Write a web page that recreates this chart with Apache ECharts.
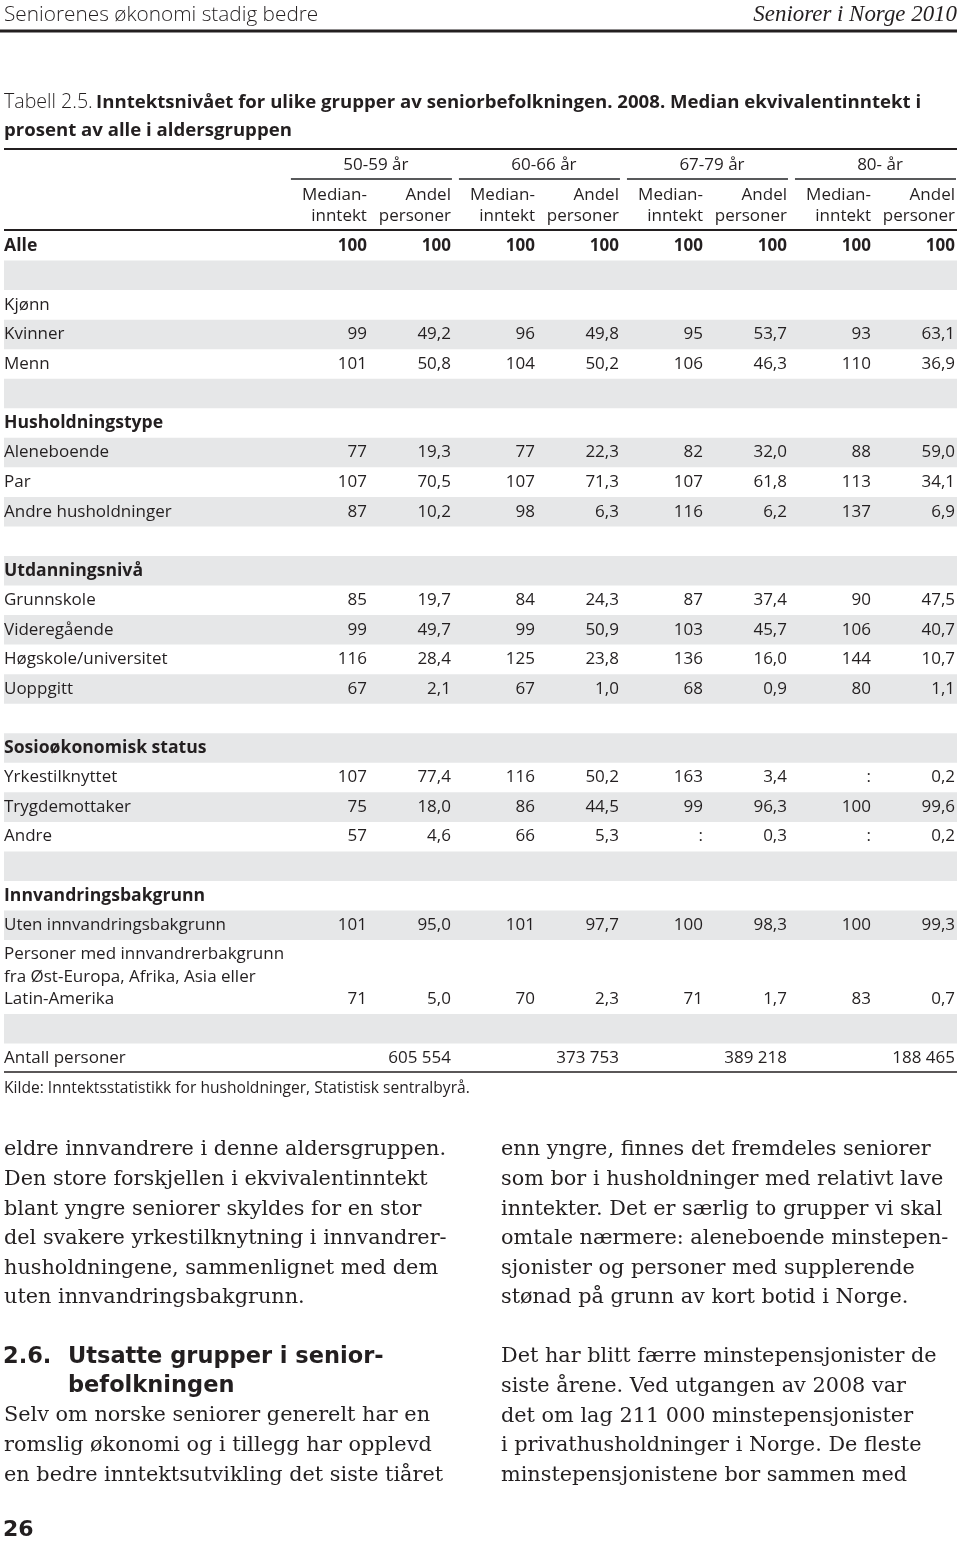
<!DOCTYPE html>
<html><head><meta charset="utf-8">
<script src="https://cdn.jsdelivr.net/npm/echarts@6/dist/echarts.min.js"></script>
<style>html,body{margin:0;padding:0;background:#fff}#c{width:960px;height:1545px}</style>
</head><body><div id="c"></div><script>
// ---------------- DATA ----------------
const ageGroups = ['50-59 år', '60-66 år', '67-79 år', '80- år'];
const subHeaders = ['Median-\ninntekt', 'Andel\npersoner'];
const personerLabel = 'Personer med innvandrerbakgrunn\nfra Øst-Europa, Afrika, Asia eller\nLatin-Amerika';
const rowLabels = ['Alle', '', 'Kjønn', 'Kvinner', 'Menn', '', 'Husholdningstype', 'Aleneboende', 'Par',
  'Andre husholdninger', '', 'Utdanningsnivå', 'Grunnskole', 'Videregående', 'Høgskole/universitet',
  'Uoppgitt', '', 'Sosioøkonomisk status', 'Yrkestilknyttet', 'Trygdemottaker', 'Andre', '',
  'Innvandringsbakgrunn', 'Uten innvandringsbakgrunn', personerLabel, '', 'Antall personer'];
const boldRows = ['Alle', 'Husholdningstype', 'Utdanningsnivå', 'Sosioøkonomisk status', 'Innvandringsbakgrunn'];
const dataRowLabels = ['Alle', 'Kvinner', 'Menn', 'Aleneboende', 'Par', 'Andre husholdninger', 'Grunnskole',
  'Videregående', 'Høgskole/universitet', 'Uoppgitt', 'Yrkestilknyttet', 'Trygdemottaker', 'Andre',
  'Uten innvandringsbakgrunn', personerLabel];
const median5059 = [100, 99, 101, 77, 107, 87, 85, 99, 116, 67, 107, 75, 57, 101, 71];
const andel5059  = [100, 49.2, 50.8, 19.3, 70.5, 10.2, 19.7, 49.7, 28.4, 2.1, 77.4, 18.0, 4.6, 95.0, 5.0];
const median6066 = [100, 96, 104, 77, 107, 98, 84, 99, 125, 67, 116, 86, 66, 101, 70];
const andel6066  = [100, 49.8, 50.2, 22.3, 71.3, 6.3, 24.3, 50.9, 23.8, 1.0, 50.2, 44.5, 5.3, 97.7, 2.3];
const median6779 = [100, 95, 106, 82, 107, 116, 87, 103, 136, 68, 163, 99, ':', 100, 71];
const andel6779  = [100, 53.7, 46.3, 32.0, 61.8, 6.2, 37.4, 45.7, 16.0, 0.9, 3.4, 96.3, 0.3, 98.3, 1.7];
const median80   = [100, 93, 110, 88, 113, 137, 90, 106, 144, 80, ':', 100, ':', 100, 83];
const andel80    = [100, 63.1, 36.9, 59.0, 34.1, 6.9, 47.5, 40.7, 10.7, 1.1, 0.2, 99.6, 0.2, 99.3, 0.7];
const antallPersoner = [605554, 373753, 389218, 188465];

const pageHeaderLeft = 'Seniorenes økonomi stadig bedre';
const pageHeaderRight = 'Seniorer i Norge 2010';
const captionLabel = 'Tabell 2.5.';
const captionLine1 = 'Inntektsnivået for ulike grupper av seniorbefolkningen. 2008. Median ekvivalentinntekt i';
const captionLine2 = 'prosent av alle i aldersgruppen';
const sourceText = 'Kilde: Inntektsstatistikk for husholdninger, Statistisk sentralbyrå.';
const leftPara1 = ['eldre innvandrere i denne aldersgruppen.', 'Den store forskjellen i ekvivalentinntekt',
  'blant yngre seniorer skyldes for en stor', 'del svakere yrkestilknytning i innvandrer-',
  'husholdningene, sammenlignet med dem', 'uten innvandringsbakgrunn.'];
const headingNumber = '2.6.';
const headingLines = ['Utsatte grupper i senior-', 'befolkningen'];
const leftPara2 = ['Selv om norske seniorer generelt har en', 'romslig økonomi og i tillegg har opplevd',
  'en bedre inntektsutvikling det siste tiåret'];
const rightPara1 = ['enn yngre, finnes det fremdeles seniorer', 'som bor i husholdninger med relativt lave',
  'inntekter. Det er særlig to grupper vi skal', 'omtale nærmere: aleneboende minstepen-',
  'sjonister og personer med supplerende', 'stønad på grunn av kort botid i Norge.'];
const rightPara2 = ['Det har blitt færre minstepensjonister de', 'siste årene. Ved utgangen av 2008 var',
  'det om lag 211 000 minstepensjonister', 'i privathusholdninger i Norge. De fleste',
  'minstepensjonistene bor sammen med'];
const pageNumber = '26';

// ---------------- STYLE ----------------
const SANS = "'Open Sans', 'Noto Sans', sans-serif";
const HEAVY = "'DejaVu Sans', sans-serif";
const SERIF = "'DejaVu Serif', serif";
const ITSERIF = "'Liberation Serif', serif";
const TXT = '#231f20';
const GRAY = '#e6e7e8';
const FS = 17;

// ---------------- LAYOUT (row units) ----------------
const rowLines = rowLabels.map(l => l.split('\n').length);
const rowUnits = rowLines.map(n => 1 + (n - 1) * 0.75);
const rowTop = [];
let acc = 0;
rowUnits.forEach(u => { rowTop.push(acc); acc += u; });
const totalUnits = acc;
const X_MIN = -3.32, X_MAX = 8;

const columns = [median5059, andel5059, median6066, andel6066, median6779, andel6779, median80, andel80];

function fmtVal(v, isAndel, isAlle) {
  if (typeof v === 'string') return v;
  if (!isAndel || isAlle) return String(v);
  return v.toFixed(1).replace('.', ',');
}
function fmtThousands(v) {
  return String(v).replace(/\B(?=(\d{3})+(?!\d))/g, ' ');
}
function txt(x, y, s, o) {
  o = o || {};
  return {
    type: 'text', x: x, y: y, silent: true,
    style: {
      text: s, fill: o.fill || TXT, fontSize: o.size || FS, fontFamily: o.family || SANS,
      fontWeight: o.weight || 'normal', fontStyle: o.style || 'normal',
      align: o.align || 'left', textAlign: o.align || 'left',
      verticalAlign: 'middle', textVerticalAlign: 'middle',
      lineHeight: o.lineHeight || undefined
    }
  };
}

const series = [];

// Row bands + labels
series.push({
  type: 'custom', coordinateSystem: 'cartesian2d', z: 1, silent: true,
  data: rowLabels.map((l, i) => [X_MIN, i]),
  renderItem(params, api) {
    const i = api.value(1);
    const label = rowLabels[i];
    const p0 = api.coord([X_MIN, rowTop[i]]);
    const p1 = api.coord([X_MAX, rowTop[i] + rowUnits[i]]);
    const children = [];
    if (i % 2 === 1) {
      children.push({ type: 'rect', shape: { x: p0[0], y: p0[1], width: p1[0] - p0[0] + 2, height: p1[1] - p0[1] },
        style: { fill: GRAY } });
    }
    if (label) {
      const c = api.coord([X_MIN, rowTop[i] + rowUnits[i] / 2]);
      const b = boldRows.includes(label);
      children.push(txt(c[0], c[1], label, { weight: b ? 'bold' : 'normal', size: b ? 17.6 : FS, lineHeight: 22.5 }));
    }
    return { type: 'group', children };
  }
});

// Value columns
columns.forEach((vals, c) => {
  const isAndel = c % 2 === 1;
  series.push({
    type: 'custom', coordinateSystem: 'cartesian2d', z: 2, silent: true,
    data: vals.map((v, k) => [c + 1, rowLabels.indexOf(dataRowLabels[k]), v]),
    renderItem(params, api) {
      const k = params.dataIndex;
      const i = rowLabels.indexOf(dataRowLabels[k]);
      const v = vals[k];
      const p = api.coord([c + 1, rowTop[i] + rowUnits[i] - 0.5]);
      const isAlle = rowLabels[i] === 'Alle';
      return txt(p[0], p[1], fmtVal(v, isAndel, isAlle), { align: 'right', weight: isAlle ? 'bold' : 'normal' });
    }
  });
});

// Antall personer
const antallRow = rowLabels.indexOf('Antall personer');
series.push({
  type: 'custom', coordinateSystem: 'cartesian2d', z: 2, silent: true,
  data: antallPersoner.map((v, g) => [2 * g + 2, antallRow, v]),
  renderItem(params, api) {
    const g = params.dataIndex;
    const p = api.coord([2 * g + 2, rowTop[antallRow] + 0.5]);
    return txt(p[0], p[1], fmtThousands(antallPersoner[g]), { align: 'right' });
  }
});

// Column headers
series.push({
  type: 'custom', coordinateSystem: 'cartesian2d', z: 2, silent: true,
  data: ageGroups.map((a, g) => [2 * g + 2, 0]),
  renderItem(params, api) {
    const g = params.dataIndex;
    const xl = api.coord([2 * g, 0])[0] + 8;
    const xm = api.coord([2 * g + 1, 0])[0];
    const xr = api.coord([2 * g + 2, 0])[0];
    const y0 = api.coord([0, 0])[1];
    return { type: 'group', children: [
      txt((xl + xr) / 2 + 5, y0 - 66, ageGroups[g], { align: 'center' }),
      { type: 'line', shape: { x1: xl, y1: y0 - 52, x2: xr + 1, y2: y0 - 52 }, style: { stroke: '#58595b', lineWidth: 2 } },
      txt(xm, y0 - 25, subHeaders[0], { align: 'right', lineHeight: 21 }),
      txt(xr, y0 - 25, subHeaders[1], { align: 'right', lineHeight: 21 })
    ] };
  }
});

// Rules
series.push({
  type: 'custom', coordinateSystem: 'cartesian2d', z: 3, silent: true,
  data: [[X_MIN, 0]],
  renderItem(params, api) {
    const a = api.coord([X_MIN, 0]);
    const b = api.coord([X_MAX, totalUnits]);
    const x2 = b[0] + 2;
    return { type: 'group', children: [
      { type: 'line', shape: { x1: a[0], y1: a[1] - 82, x2: x2, y2: a[1] - 82 }, style: { stroke: TXT, lineWidth: 2 } },
      { type: 'line', shape: { x1: a[0], y1: a[1] - 1, x2: x2, y2: a[1] - 1 }, style: { stroke: TXT, lineWidth: 2 } },
      { type: 'line', shape: { x1: a[0], y1: b[1] - 1, x2: x2, y2: b[1] - 1 }, style: { stroke: TXT, lineWidth: 1.5 } }
    ] };
  }
});

// ---------------- Static page text ----------------
const graphic = [];
const gtxt = txt;
graphic.push(gtxt(4, 15, pageHeaderLeft, { size: 20.8, weight: 300 }));
graphic.push(gtxt(957, 15, pageHeaderRight, { size: 22.9, family: ITSERIF, style: 'italic', align: 'right' }));
graphic.push({ type: 'rect', silent: true, shape: { x: 0, y: 29.5, width: 957, height: 3 }, style: { fill: TXT } });
graphic.push({
  type: 'text', x: 4, y: 102.5, silent: true,
  style: {
    text: '{r|' + captionLabel + '} {b|' + captionLine1 + '}',
    verticalAlign: 'middle', textVerticalAlign: 'middle', fill: TXT,
    rich: {
      r: { fontSize: 19.6, fontFamily: SANS, fontWeight: 300, fill: TXT },
      b: { fontSize: 18.6, fontFamily: SANS, fontWeight: 'bold', fill: TXT }
    }
  }
});
graphic.push(gtxt(4, 131, captionLine2, { weight: 'bold', size: 18.6 }));
graphic.push(gtxt(4, 1089, sourceText, { size: 15.6 }));

const BODY = 20.8, LH = 29.6;
leftPara1.forEach((s, i) => graphic.push(gtxt(4, 1150 + LH * i, s, { size: BODY, family: SERIF })));
rightPara1.forEach((s, i) => graphic.push(gtxt(501, 1150 + LH * i, s, { size: BODY, family: SERIF })));
rightPara2.forEach((s, i) => graphic.push(gtxt(501, 1357 + LH * i, s, { size: BODY, family: SERIF })));
graphic.push(gtxt(3, 1357, headingNumber, { size: 22.5, weight: 'bold', family: HEAVY }));
headingLines.forEach((s, i) => graphic.push(gtxt(68, 1357 + 29.3 * i, s, { size: 22.5, weight: 'bold', family: HEAVY })));
leftPara2.forEach((s, i) => graphic.push(gtxt(4, 1416 + LH * i, s, { size: BODY, family: SERIF })));
graphic.push(gtxt(3, 1530, pageNumber, { size: 22, weight: 'bold', family: HEAVY }));

const chart = echarts.init(document.getElementById('c'), null, { renderer: 'canvas' });
chart.setOption({
  backgroundColor: '#ffffff',
  animation: false,
  grid: { left: 4, right: 5, top: 231, height: 842 },
  xAxis: { type: 'value', min: X_MIN, max: X_MAX, show: false },
  yAxis: { type: 'value', min: 0, max: totalUnits, inverse: true, show: false },
  series: series,
  graphic: graphic
});
</script></body></html>
